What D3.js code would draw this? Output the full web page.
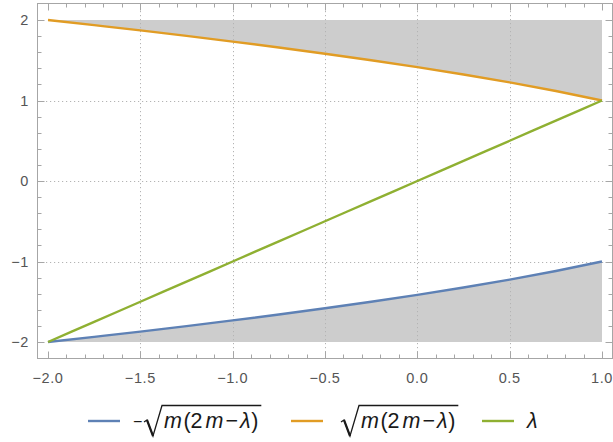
<!DOCTYPE html>
<html><head><meta charset="utf-8">
<script src="https://cdn.jsdelivr.net/npm/d3@7"></script>
<style>body{margin:0;background:#fff}svg{display:block}</style>
</head><body>
<svg id="c" width="613" height="442"></svg>
<script>
const lambdaVals = [-2, -1.75, -1.5, -1.25, -1, -0.75, -0.5, -0.25, 0, 0.25, 0.5, 0.75, 1];
const upperVals  = [2, 1.936, 1.871, 1.803, 1.732, 1.658, 1.581, 1.5, 1.414, 1.323, 1.225, 1.118, 1.0];
const lowerVals  = [-2, -1.936, -1.871, -1.803, -1.732, -1.658, -1.581, -1.5, -1.414, -1.323, -1.225, -1.118, -1.0];
const lineVals   = [-2, -1.75, -1.5, -1.25, -1, -0.75, -0.5, -0.25, 0, 0.25, 0.5, 0.75, 1];
const xTicks = [-2, -1.5, -1, -0.5, 0, 0.5, 1];
const xTickLabels = ["\u22122.0", "\u22121.5", "\u22121.0", "\u22120.5", "0.0", "0.5", "1.0"];
const yTicks = [-2, -1, 0, 1, 2];
const yTickLabels = ["\u22122", "\u22121", "0", "1", "2"];
const seriesColors = ["#5e81b5", "#e19c24", "#8fb032"];

(function () {
const svg = d3.select("#c");
const L = 37, R = 612, T = 3, B = 358;
const x = d3.scaleLinear().domain([-2, 1]).range([48, 602]);
const y = d3.scaleLinear().domain([-2, 2]).range([342, 20]);
const axisCol = "#a6a6a6", labCol = "#555";

// shading
const topRegion = lambdaVals.map((l, i) => ({l, a: 2, b: upperVals[i]}));
const botRegion = lambdaVals.map((l, i) => ({l, a: -2, b: lowerVals[i]}));
const area = d3.area().x(d => x(d.l)).y0(d => y(d.a)).y1(d => y(d.b)).curve(d3.curveMonotoneX);
svg.append("path").attr("d", area(topRegion)).attr("fill", "#cdcdcd");
svg.append("path").attr("d", area(botRegion)).attr("fill", "#cdcdcd");

// grid
const grid = svg.append("g").attr("stroke", "#b4b4b4").attr("stroke-width", 1).attr("stroke-dasharray", "1.2,2.8");
xTicks.slice(1, -1).forEach(t => grid.append("line").attr("x1", Math.round(x(t))+0.5).attr("x2", Math.round(x(t))+0.5).attr("y1", T).attr("y2", B));
yTicks.slice(1, -1).forEach(t => grid.append("line").attr("x1", 46).attr("x2", R).attr("y1", Math.round(y(t))+0.5).attr("y2", Math.round(y(t))+0.5));

// lines
const line = d3.line().x(d => x(d[0])).y(d => y(d[1])).curve(d3.curveMonotoneX);
const sets = [lowerVals, upperVals, lineVals];
sets.forEach((vals, i) => {
  svg.append("path").attr("d", line(lambdaVals.map((l, j) => [l, vals[j]])))
    .attr("fill", "none").attr("stroke", seriesColors[i]).attr("stroke-width", 2.4).attr("stroke-linejoin", "round");
});

// frame
const fr = svg.append("g").attr("stroke", axisCol).attr("stroke-width", 1).attr("fill", "none");
fr.append("rect").attr("x", L + 0.5).attr("y", T + 0.5).attr("width", R - L).attr("height", B - T);
d3.range(-20, 11).forEach(k => {
  const v = k / 10, px = Math.round(x(v)) + 0.5;
  const major = k % 5 === 0, len = major ? 7 : 4;
  fr.append("line").attr("x1", px).attr("x2", px).attr("y1", B + 0.5).attr("y2", B + 0.5 - len);
  fr.append("line").attr("x1", px).attr("x2", px).attr("y1", T + 0.5).attr("y2", T + 0.5 + len);
});
d3.range(-10, 11).forEach(k => {
  const v = k / 5, py = Math.round(y(v)) + 0.5;
  const major = k % 5 === 0, len = major ? 7 : 4;
  fr.append("line").attr("x1", L + 0.5).attr("x2", L + 0.5 + len).attr("y1", py).attr("y2", py);
  fr.append("line").attr("x1", R + 0.5).attr("x2", R + 0.5 - len).attr("y1", py).attr("y2", py);
});

// labels
const lf = "'Liberation Sans', Arial, sans-serif";
xTicks.forEach((t, i) => svg.append("text").attr("x", x(t)).attr("y", 383).attr("text-anchor", "middle")
  .attr("font-family", lf).attr("font-size", 14.5).attr("letter-spacing", 0.6).attr("fill", labCol).text(xTickLabels[i]));
yTicks.forEach((t, i) => svg.append("text").attr("x", 29).attr("y", y(t) + 5).attr("text-anchor", "end")
  .attr("font-family", lf).attr("font-size", 14.5).attr("letter-spacing", 0.6).attr("fill", labCol).text(yTickLabels[i]));

// legend
const legY = 421, base = 428, fs = 21.5, ink = "#1a1a1a";
function sqrtLabel(g, x0, neg) {
  let sx = x0;
  if (neg) {
    g.append("text").attr("x", x0).attr("y", base - 1).attr("font-family", lf).attr("font-size", 16).attr("fill", ink).text("\u2212");
    sx = x0 + 11;
  }
  const t = g.append("text").attr("x", sx + 20).attr("y", base).attr("font-family", lf).attr("font-size", fs).attr("fill", ink);
  const parts = [["m", true, 0], ["(", false, 1.5], ["2", false, 0], ["m", true, 3], ["\u2212", false, 2], ["\u03BB", true, 2], [")", false, 0.5]];
  parts.forEach(p => t.append("tspan").attr("font-style", p[1] ? "italic" : null).attr("dx", p[2]).text(p[0]));
  const w = t.node().getComputedTextLength() + 12;
  const topY = 405.5;
  g.append("path").attr("d", `M${sx},${base - 6} L${sx + 3},${base - 8} L${sx + 9},${base + 8} L${sx + 18},${topY} H${sx + 20 + w}`)
    .attr("fill", "none").attr("stroke", ink).attr("stroke-width", 1.3).attr("stroke-linejoin", "miter");
  g.append("path").attr("d", `M${sx + 3},${base - 8} L${sx + 9},${base + 8}`)
    .attr("fill", "none").attr("stroke", ink).attr("stroke-width", 2.2);
}
const lg = svg.append("g");
[[88, 133, true], [291, 341, false]].forEach((p, i) => {
  lg.append("line").attr("x1", p[0]).attr("x2", p[0] + 32).attr("y1", legY).attr("y2", legY)
    .attr("stroke", seriesColors[i]).attr("stroke-width", 2.4);
  sqrtLabel(lg, p[1], p[2]);
});
lg.append("line").attr("x1", 482).attr("x2", 514).attr("y1", legY).attr("y2", legY)
  .attr("stroke", seriesColors[2]).attr("stroke-width", 2.4);
lg.append("text").attr("x", 527).attr("y", base).attr("font-family", lf).attr("font-size", fs)
  .attr("font-style", "italic").attr("fill", ink).text("\u03BB");
})();
</script>
</body></html>
